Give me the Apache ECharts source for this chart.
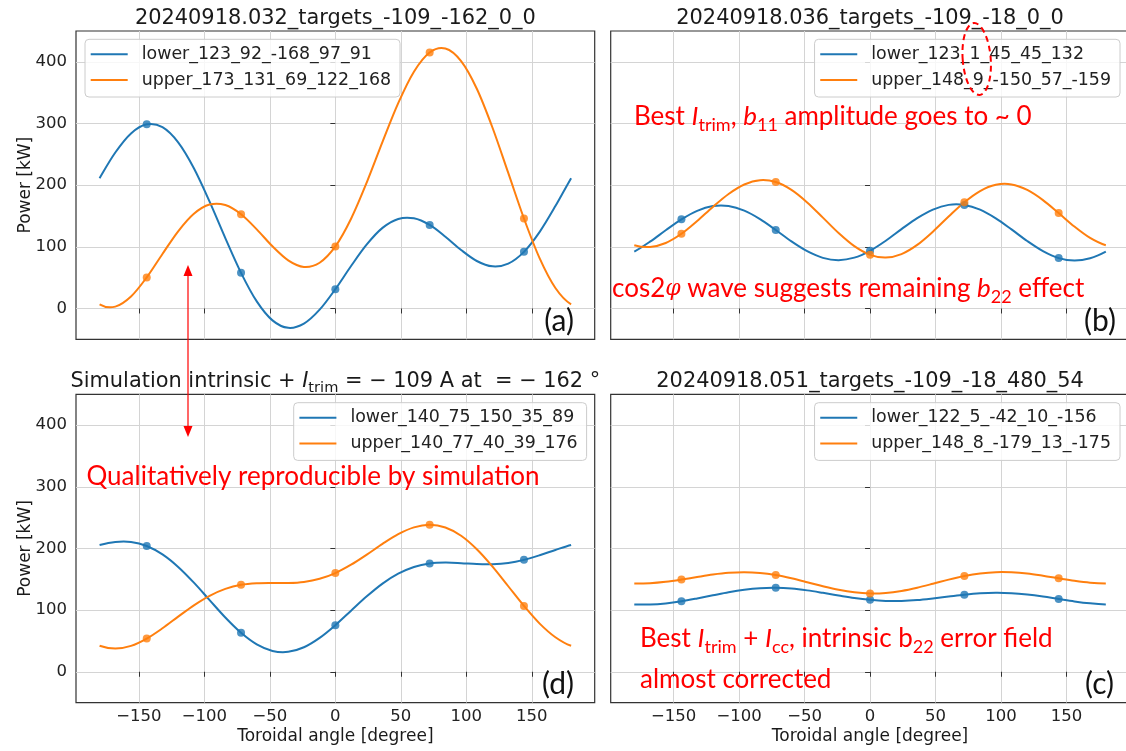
<!DOCTYPE html>
<html>
<head>
<meta charset="utf-8">
<script src="https://cdn.jsdelivr.net/npm/echarts@6/dist/echarts.min.js"></script>
<style>
  html, body { margin: 0; padding: 0; background: #ffffff; }
  #chart { width: 1126px; height: 751px; }
</style>
</head>
<body>
<div id="chart"></div>
<script>
// Toroidal angle (degree) at which every fitted power profile is sampled
const angles = [-180, -168, -156, -144, -132, -120, -108, -96, -84, -72, -60, -48, -36, -24, -12,
  0, 12, 24, 36, 48, 60, 72, 84, 96, 108, 120, 132, 144, 156, 168, 180];
// Toroidal positions of the five measured points
const probeAngles = [-144, -72, 0, 72, 144];

// Tick labels
const xTicks = [-150, -100, -50, 0, 50, 100, 150];
const yTicks = [0, 100, 200, 300, 400];

// (a) shot 20240918.032 — power [kW]
const lowerA = [211.3, 252.9, 283.9, 298.7, 294.0, 269.4, 227.4, 173.2, 114.1, 57.8, 11.5, -19.3, -31.4, -24.6, -2.0,
  31.3, 68.9, 103.9, 130.7, 145.2, 146.2, 135.4, 116.4, 94.9, 77.0, 68.3, 72.7, 91.8, 124.2, 166.0, 211.3];
const upperA = [6.8, 3.0, 19.4, 50.4, 88.4, 125.2, 153.6, 168.5, 167.7, 152.8, 128.3, 100.8, 78.1, 67.4, 74.2,
  100.6, 145.6, 204.6, 270.2, 333.0, 384.0, 415.2, 421.5, 401.1, 356.4, 293.1, 219.8, 145.9, 81.2, 33.2, 6.8];

// (b) shot 20240918.036
const lowerB = [92.2, 108.3, 126.8, 144.5, 158.4, 166.0, 166.1, 158.6, 144.9, 127.3, 108.8, 92.9, 82.1, 78.4, 82.4,
  93.6, 109.9, 128.6, 146.5, 160.4, 168.0, 167.9, 160.2, 146.1, 128.2, 109.4, 93.0, 81.7, 77.6, 81.4, 92.2];
const upperB = [102.6, 99.7, 106.2, 121.1, 141.8, 164.7, 185.7, 201.1, 208.0, 205.0, 192.3, 172.0, 147.3, 122.3, 101.0,
  87.0, 82.5, 88.2, 103.1, 124.6, 149.1, 172.3, 190.5, 200.6, 201.2, 192.3, 175.8, 154.7, 132.9, 114.4, 102.6];

// (d) simulation
const lowerD = [205.6, 210.5, 210.5, 204.0, 190.3, 170.0, 144.5, 116.2, 88.0, 63.2, 44.4, 33.8, 32.3, 39.8, 55.0,
  75.6, 99.1, 122.3, 143.0, 159.1, 170.0, 175.7, 177.2, 176.2, 174.6, 174.4, 176.4, 181.5, 189.0, 197.6, 205.6];
const upperD = [42.1, 37.6, 42.0, 53.8, 70.5, 89.4, 107.8, 123.2, 134.4, 141.1, 143.7, 144.1, 144.0, 145.7, 150.8,
  160.1, 173.6, 190.0, 207.4, 223.1, 234.2, 238.4, 234.0, 220.6, 198.7, 170.5, 138.7, 106.8, 78.1, 56.0, 42.1];

// (c) shot 20240918.051
const lowerC = [109.2, 109.1, 110.9, 114.3, 118.9, 124.0, 129.0, 133.0, 135.5, 136.1, 134.9, 132.0, 128.0, 123.7, 119.6,
  116.6, 114.9, 114.9, 116.3, 118.9, 122.0, 125.0, 127.2, 128.1, 127.5, 125.3, 122.0, 118.0, 114.1, 111.0, 109.2];
const upperC = [143.0, 143.6, 145.9, 149.5, 153.7, 157.6, 160.4, 161.4, 160.2, 156.8, 151.6, 145.3, 138.7, 132.9, 128.8,
  127.0, 127.8, 131.1, 136.3, 142.7, 149.4, 155.2, 159.4, 161.6, 161.4, 159.4, 155.7, 151.5, 147.5, 144.4, 143.0];

// Legend entries (fit parameters of each divertor array)
const namesA = ['lower_123_92_-168_97_91', 'upper_173_131_69_122_168'];
const namesB = ['lower_123_1_45_45_132', 'upper_148_9_-150_57_-159'];
const namesD = ['lower_140_75_150_35_89', 'upper_140_77_40_39_176'];
const namesC = ['lower_122_5_-42_10_-156', 'upper_148_8_-179_13_-175'];

// Panel titles
const titleA = '20240918.032_targets_-109_-162_0_0';
const titleB = '20240918.036_targets_-109_-18_0_0';
const titleC = '20240918.051_targets_-109_-18_480_54';
const titleD = 'Simulation intrinsic + {i|I}{s|trim} = \u2212 109 A at  = \u2212 162 °';

const FONT = 'DejaVu Sans';
const NOTE_FONT = 'Lato';
const BLUE = '#1f77b4';
const ORANGE = '#ff7f0e';
const RED = '#ff0000';
const INK = '#1a1a1a';
const TITLE_SIZE = 20.9;

const GW = 518.7, GH = 308.3;
const panels = [
  { left: 76,    top: 31,    lower: lowerA, upper: upperA, names: namesA, title: titleA, tag: '(a)', tagX: 574,  xLab: false, yLab: true,
    legend: { left: 85, top: 39.3 } },
  { left: 610.7, top: 31,    lower: lowerB, upper: upperB, names: namesB, title: titleB, tag: '(b)', tagX: 1116, xLab: false, yLab: false,
    legend: { right: 6, top: 39.3 } },
  { left: 76,    top: 394.3, lower: lowerD, upper: upperD, names: namesD, title: titleD, tag: '(d)', tagX: 574,  xLab: true,  yLab: true,
    legend: { right: 539.4, top: 402.7 } },
  { left: 610.7, top: 394.3, lower: lowerC, upper: upperC, names: namesC, title: titleC, tag: '(c)', tagX: 1114, xLab: true,  yLab: false,
    legend: { right: 6, top: 402.7 } }
];

const signed = v => (v < 0 ? '\u2212' + Math.abs(v) : String(v));
const curve = arr => angles.map((a, i) => [a, arr[i]]);
const probes = arr => probeAngles.map(a => [a, arr[angles.indexOf(a)]]);

// Cubic Catmull-Rom path through pixel points; the profile is periodic,
// so the neighbours beyond both ends come from the opposite side.
function splinePath(pts, before, after) {
  const P = [before].concat(pts, [after]);
  const f = v => v.toFixed(2);
  let d = 'M' + f(pts[0][0]) + ',' + f(pts[0][1]);
  for (let i = 1; i < P.length - 2; i++) {
    const p0 = P[i - 1], p1 = P[i], p2 = P[i + 1], p3 = P[i + 2];
    d += 'C' + f(p1[0] + (p2[0] - p0[0]) / 6) + ',' + f(p1[1] + (p2[1] - p0[1]) / 6) + ','
      + f(p2[0] - (p3[0] - p1[0]) / 6) + ',' + f(p2[1] - (p3[1] - p1[1]) / 6) + ','
      + f(p2[0]) + ',' + f(p2[1]);
  }
  return d;
}

function profileSeries(arr, col, nm, k) {
  const n = angles.length;
  return {
    type: 'custom', name: nm, xAxisIndex: k, yAxisIndex: k, data: curve(arr),
    encode: { x: 0, y: 1 }, itemStyle: { color: col }, z: 3, silent: true,
    renderItem: (params, api) => {
      if (params.dataIndex !== 0) return null;
      const pts = angles.map((a, i) => api.coord([a, arr[i]]));
      const before = api.coord([angles[n - 2] - 360, arr[n - 2]]);
      const after = api.coord([angles[1] + 360, arr[1]]);
      return {
        type: 'path', shape: { pathData: splinePath(pts, before, after) },
        style: { fill: null, stroke: col, lineWidth: 2 }
      };
    }
  };
}

const grids = [], xAxes = [], yAxes = [], series = [], legends = [], graphics = [];

panels.forEach((p, k) => {
  grids.push({
    left: p.left, top: p.top, width: GW, height: GH,
    show: true, borderColor: '#333333', borderWidth: 1.2, backgroundColor: 'transparent',
    containLabel: false, outerBoundsMode: 'none'
  });
  xAxes.push({
    type: 'value', gridIndex: k, min: -198, max: 198, minInterval: 50, maxInterval: 50,
    axisLine: { show: false },
    axisTick: { show: true, length: 5, customValues: xTicks, lineStyle: { color: '#333333', width: 1 } },
    axisLabel: { show: p.xLab, customValues: xTicks, formatter: signed, margin: 6,
      fontFamily: FONT, fontSize: 16.5, color: '#222222' },
    splitLine: { show: true, lineStyle: { color: '#d4d4d4', width: 1 } }
  });
  yAxes.push({
    type: 'value', gridIndex: k, min: -50, max: 450, minInterval: 100, maxInterval: 100,
    axisLine: { show: false },
    axisTick: { show: true, length: 5, customValues: yTicks, lineStyle: { color: '#333333', width: 1 } },
    axisLabel: { show: p.yLab, customValues: yTicks, formatter: signed, margin: 9,
      fontFamily: FONT, fontSize: 16.5, color: '#222222' },
    splitLine: { show: true, lineStyle: { color: '#d4d4d4', width: 1 } }
  });
  series.push(profileSeries(p.lower, BLUE, p.names[0], k));
  series.push(profileSeries(p.upper, ORANGE, p.names[1], k));
  [[p.lower, BLUE, p.names[0]], [p.upper, ORANGE, p.names[1]]].forEach(([arr, col, nm]) => {
    series.push({
      type: 'scatter', name: nm, xAxisIndex: k, yAxisIndex: k, data: probes(arr),
      symbol: 'circle', symbolSize: 8, itemStyle: { color: col }, z: 4
    });
  });
  legends.push(Object.assign({
    orient: 'vertical', data: p.names, icon: 'rect', itemWidth: 37, itemHeight: 2, itemGap: 5.7,
    padding: [5, 9, 7, 5.7], backgroundColor: 'rgba(255,255,255,0.8)', borderColor: '#cccccc',
    borderWidth: 1, borderRadius: 4, selectedMode: false, z: 6,
    formatter: n => '{t|' + n + '}',
    textStyle: { fontFamily: FONT, fontSize: 17.4, color: '#222222', lineHeight: 20,
      rich: { t: { fontFamily: FONT, fontSize: 17.4, color: '#222222', lineHeight: 20, padding: [0, 0, 0, 9] } } }
  }, p.legend));

  // panel title
  graphics.push({
    type: 'text', x: p.left + GW / 2, y: p.top - 12.5, z: 50,
    style: {
      text: p.title, align: 'center', verticalAlign: 'middle',
      fontFamily: FONT, fontSize: TITLE_SIZE, fill: INK,
      rich: {
        i: { fontFamily: FONT, fontStyle: 'italic', fontSize: TITLE_SIZE, fill: INK },
        s: { fontFamily: FONT, fontSize: 14.6, fill: INK, padding: [12, 0, 0, 0] }
      }
    }
  });
  // panel tag
  graphics.push({
    type: 'text', x: p.tagX, y: p.top + 290.5, z: 50,
    style: { text: p.tag, align: 'right', verticalAlign: 'middle', fontFamily: NOTE_FONT, fontSize: 30, fill: '#111111' }
  });
  if (p.yLab) {
    graphics.push({
      type: 'text', x: 26, y: p.top + GH / 2, rotation: Math.PI / 2, z: 50,
      style: { text: 'Power [kW]', align: 'center', verticalAlign: 'middle', fontFamily: FONT, fontSize: 17, fill: INK }
    });
  }
  if (p.xLab) {
    graphics.push({
      type: 'text', x: p.left + GW / 2, y: p.top + GH + 34, z: 50,
      style: { text: 'Toroidal angle [degree]', align: 'center', verticalAlign: 'middle', fontFamily: FONT, fontSize: 17, fill: INK }
    });
  }
});

// red annotations
const noteRich = {
  i: { fontFamily: NOTE_FONT, fontStyle: 'italic', fontSize: 26, fill: RED },
  p: { fontFamily: 'DejaVu Serif', fontStyle: 'italic', fontSize: 22, fill: RED },
  s: { fontFamily: NOTE_FONT, fontSize: 18, fill: RED, padding: [16, 0, 0, 0] }
};
const note = (x, y, text) => ({
  type: 'text', x: x, y: y, z: 100,
  style: { text: text, align: 'left', verticalAlign: 'middle', fontFamily: NOTE_FONT, fontSize: 26, fill: RED, rich: noteRich }
});
graphics.push(
  note(634, 117, 'Best {i|I}{s|trim}, {i|b}{s|11} amplitude goes to ~ 0'),
  note(612, 289, 'cos2{p|φ} wave suggests remaining {i|b}{s|22} effect'),
  note(86.5, 477, 'Qualitatively reproducible by simulation'),
  note(640, 639, 'Best {i|I}{s|trim} + {i|I}{s|cc}, intrinsic b{s|22} error field'),
  note(640, 680, 'almost corrected'),
  {
    type: 'ellipse', z: 100, rotation: 0.08, originX: 976.7, originY: 59,
    shape: { cx: 976.7, cy: 59, rx: 14, ry: 36 },
    style: { fill: 'transparent', stroke: RED, lineWidth: 2, lineDash: [6, 4] }
  },
  { type: 'line', z: 100, shape: { x1: 188, y1: 274, x2: 188, y2: 428 }, style: { stroke: RED, lineWidth: 1.2 } },
  { type: 'polygon', z: 100, shape: { points: [[188, 265], [183.5, 276], [192.5, 276]] }, style: { fill: RED } },
  { type: 'polygon', z: 100, shape: { points: [[188, 437], [183.5, 426], [192.5, 426]] }, style: { fill: RED } }
);

const chart = echarts.init(document.getElementById('chart'), null, { renderer: 'canvas' });
chart.setOption({
  animation: false,
  backgroundColor: '#ffffff',
  grid: grids,
  xAxis: xAxes,
  yAxis: yAxes,
  legend: legends,
  series: series,
  graphic: { elements: graphics }
});
</script>
</body>
</html>
